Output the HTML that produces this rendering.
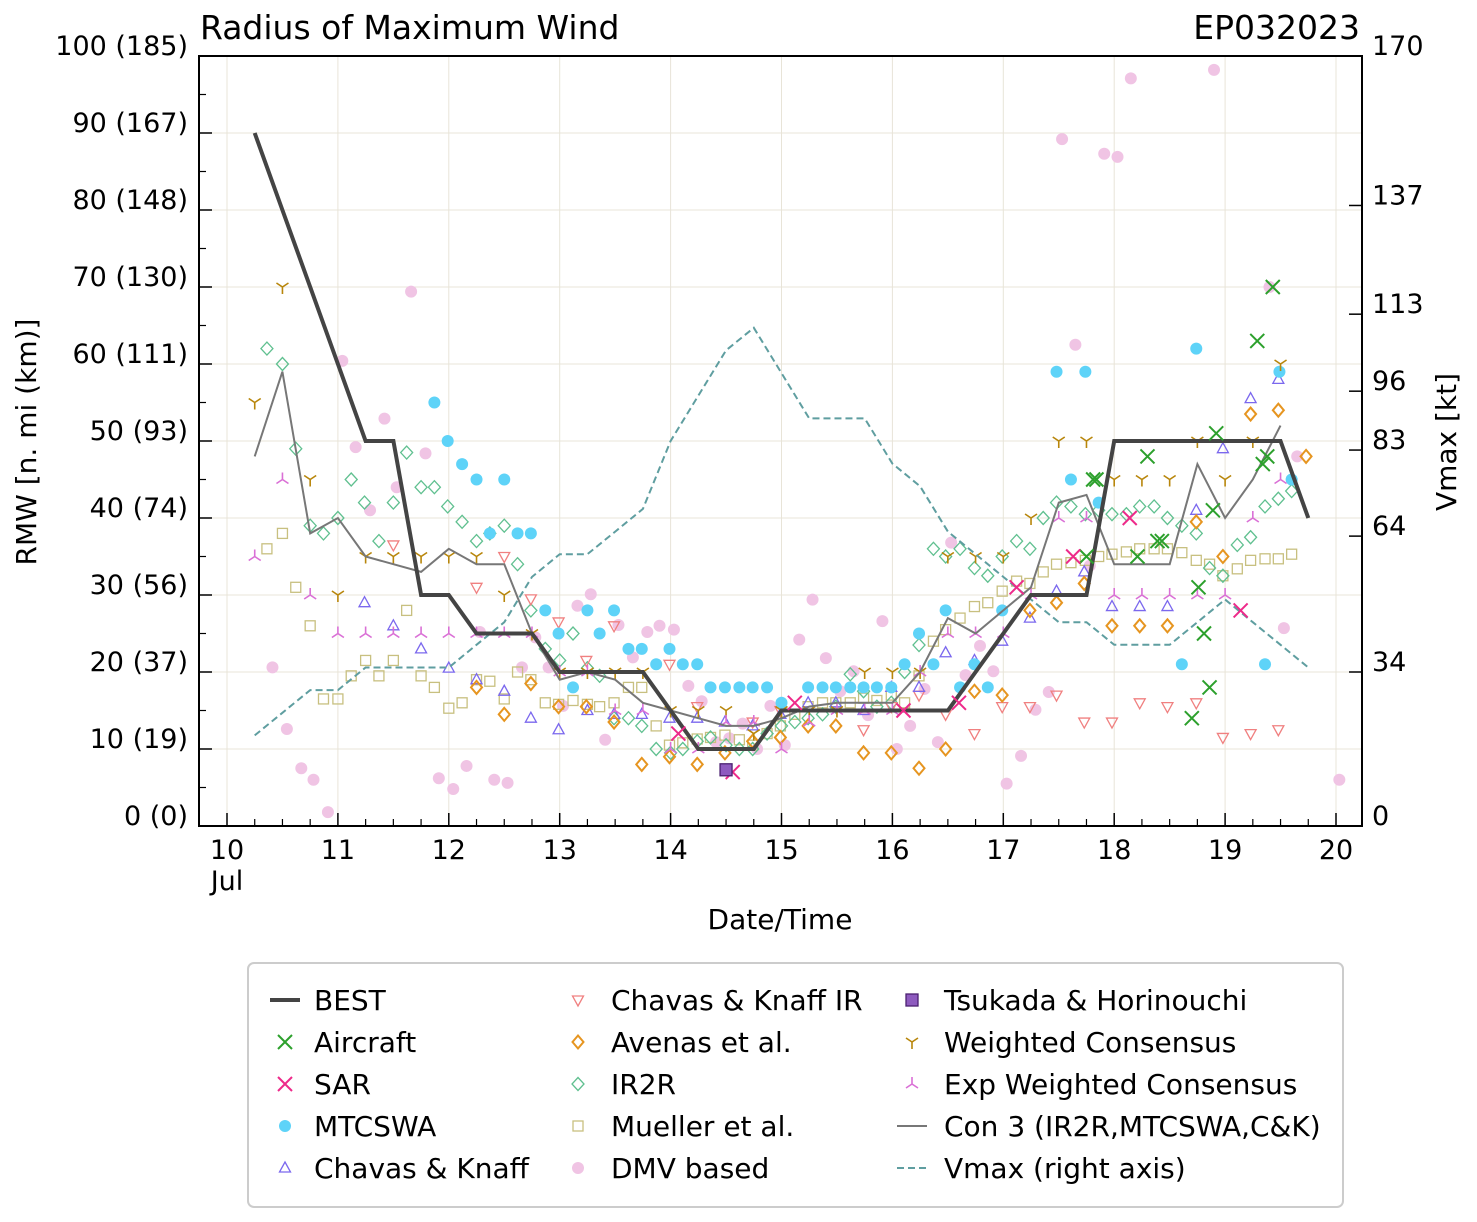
<!DOCTYPE html>
<html><head><meta charset="utf-8"><style>
body{margin:0;background:#fff;}
svg{display:block;font-family:"DejaVu Sans","Liberation Sans",sans-serif;}
</style></head><body>
<svg id="chart" width="1477" height="1222" viewBox="0 0 1477 1222" xmlns="http://www.w3.org/2000/svg">
<text x="200" y="39" font-size="33">Radius of Maximum Wind</text>
<text x="1360" y="39" font-size="33" text-anchor="end">EP032023</text>
<text transform="translate(36,442) rotate(-90)" font-size="28" text-anchor="middle">RMW [n. mi (km)]</text>
<text transform="translate(1456,442) rotate(-90)" font-size="28" text-anchor="middle">Vmax [kt]</text>
<text x="780" y="929" font-size="28" text-anchor="middle">Date/Time</text>
<g id="grid"></g><g id="axes"></g><g id="series"></g>
<g id="legend"></g>
</svg>
<script>
const bestT=[10.25,10.5,10.75,11,11.25,11.5,11.75,12,12.25,12.5,12.75,13,13.25,13.5,13.75,14,14.25,14.5,14.75,15,15.25,15.5,15.75,16,16.25,16.5,16.75,17,17.25,17.5,17.75,18,18.25,18.5,18.75,19,19.25,19.5,19.75];
const bestV=[90,80,70,60,50,50,30,30,25,25,25,20,20,20,20,15,10,10,10,15,15,15,15,15,15,15,20,25,30,30,30,50,50,50,50,50,50,50,40];
const vmaxV=[20,25,30,30,35,35,35,35,40,45,55,60,60,65,70,85,95,105,110,100,90,90,90,80,75,65,60,55,50,45,45,40,40,40,45,50,45,40,35];
const con3T=[10.25,10.5,10.75,11,11.25,11.5,11.75,12,12.25,12.5,12.75,13,13.25,13.5,13.75,14,14.25,14.5,14.75,15,15.25,15.5,15.75,16,16.25,16.5,16.75,17,17.25,17.5,17.75,18,18.25,18.5,18.75,19,19.25,19.5];
const con3V=[48,59,38,40,35,34,33,36,34,34,25,19,20,19,16,15,14,13,13,14,15.5,16,16,16,20,27,25,28,31,42,43,34,34,34,47,40,45,52];
const aircraft=[[17.75,35],[17.81,45],[17.84,45],[18.21,35],[18.3,48],[18.39,37],[18.43,37],[18.7,14],[18.76,31],[18.81,25],[18.86,18],[18.89,41],[18.92,51],[19.29,63],[19.34,47],[19.38,48],[19.43,70]];
const sar=[[14.07,12],[14.56,7],[15.12,16],[16.1,15],[16.6,16],[17.12,31],[17.63,35],[18.14,40],[19.14,28]];
const mtcswa=[[11.87,55],[11.99,50],[12.12,47],[12.25,45],[12.37,38],[12.5,45],[12.62,38],[12.74,38],[12.87,28],[12.99,25],[13.12,18],[13.25,28],[13.36,25],[13.49,28],[13.62,23],[13.74,23],[13.87,21],[13.99,23],[14.11,21],[14.24,21],[14.36,18],[14.49,18],[14.62,18],[14.74,18],[14.87,18],[15.0,16],[15.24,18],[15.37,18],[15.49,18],[15.62,18],[15.74,18],[15.86,18],[15.99,18],[16.11,21],[16.24,25],[16.37,21],[16.48,28],[16.61,18],[16.74,21],[16.86,18],[16.99,28],[17.48,59],[17.61,45],[17.74,59],[17.86,42],[18.61,21],[18.74,62],[19.36,21],[19.49,59],[19.6,45]];
const ck=[[11.24,29],[11.5,26],[11.75,23],[12.0,20.5],[12.25,19],[12.5,17.5],[12.74,14],[12.99,12.5],[13.25,15],[13.49,14.5],[13.74,14.5],[13.99,14],[14.24,14],[14.49,13.5],[14.74,13],[14.99,14.5],[15.24,16],[15.49,16],[15.74,15],[15.99,18],[16.24,18],[16.48,22.5],[16.74,21.5],[16.99,24],[17.24,27],[17.48,30.5],[17.73,33],[17.98,28.5],[18.23,28.5],[18.48,28.5],[18.74,41],[18.98,49],[19.23,55.5],[19.48,58]];
const ckir=[[11.5,36.5],[12.25,31],[12.5,35],[12.74,29.5],[12.99,26.5],[13.24,21.5],[13.49,26],[13.99,21],[14.24,15.5],[14.74,13.5],[14.99,15],[15.74,12.5],[15.99,15.5],[16.24,17],[16.48,14.5],[16.74,12],[16.99,15.5],[17.24,15.5],[17.48,17],[17.73,13.5],[17.98,13.5],[18.23,16],[18.48,15.5],[18.74,16],[18.98,11.5],[19.23,12],[19.48,12.5]];
const avenas=[[12.25,18],[12.5,14.5],[12.74,18.5],[12.99,15.5],[13.24,15.5],[13.49,13.5],[13.74,8],[13.99,9],[14.24,8],[14.49,9.5],[14.74,11],[14.99,11.5],[15.24,13],[15.49,13],[15.74,9.5],[15.99,9.5],[16.24,7.5],[16.48,10],[16.74,17.5],[16.99,17],[17.24,28],[17.48,29],[17.73,31.5],[17.98,26],[18.23,26],[18.48,26],[18.74,39.5],[18.98,35],[19.23,53.5],[19.48,54],[19.73,48]];
const ir2r=[[10.36,62],[10.5,60],[10.62,49],[10.75,39],[10.87,38],[11.0,40],[11.12,45],[11.24,42],[11.37,37],[11.5,42],[11.62,48.5],[11.75,44],[11.87,44],[11.99,41.5],[12.12,39.5],[12.25,37],[12.37,38],[12.5,39],[12.62,34],[12.74,28],[12.87,23],[13.0,21.5],[13.12,25],[13.25,20.5],[13.36,19.5],[13.49,14],[13.62,14],[13.74,13],[13.87,10],[14.0,9.5],[14.11,10],[14.24,11],[14.36,11.5],[14.5,10.5],[14.62,10],[14.74,10],[14.87,12],[15.0,13],[15.12,13.5],[15.24,14],[15.37,14.5],[15.49,15.5],[15.62,19.7],[15.74,17.5],[15.86,15.5],[15.99,16],[16.11,20],[16.24,23.5],[16.37,36],[16.48,35],[16.61,36],[16.74,33.5],[16.86,32.5],[16.99,35],[17.12,37],[17.24,36],[17.36,40],[17.48,42],[17.61,41.5],[17.74,40.5],[17.86,41],[17.98,40.5],[18.11,40.5],[18.23,41.5],[18.36,41.5],[18.48,40],[18.61,39],[18.74,38],[18.86,33.5],[18.98,32.5],[19.11,36.5],[19.23,37.5],[19.36,41.5],[19.48,42.5],[19.6,43.5]];
const mueller=[[10.36,36],[10.5,38],[10.62,31],[10.75,26],[10.87,16.5],[11.0,16.5],[11.12,19.5],[11.25,21.5],[11.37,19.5],[11.5,21.5],[11.62,28],[11.75,19.5],[11.87,18],[12.0,15.3],[12.12,16],[12.25,19],[12.37,18.8],[12.5,16.5],[12.62,20],[12.74,19],[12.87,16],[12.99,15.8],[13.12,16.3],[13.25,15.8],[13.36,15.5],[13.49,16],[13.62,18],[13.74,18],[13.87,13],[13.99,10.5],[14.11,10.8],[14.24,11.3],[14.36,11.5],[14.49,11.8],[14.62,11.2],[14.74,10.5],[14.87,12],[14.99,13],[15.12,14.5],[15.24,15.5],[15.37,16],[15.49,16],[15.62,16],[15.74,16.6],[15.86,16.3],[15.99,17],[16.11,16],[16.24,19.5],[16.37,24],[16.48,25.5],[16.61,27],[16.74,28.5],[16.86,29],[16.99,30.5],[17.12,31.8],[17.24,31.5],[17.36,33],[17.48,34],[17.61,34.2],[17.74,34.5],[17.86,35],[17.98,35.3],[18.11,35.6],[18.23,36],[18.36,36],[18.48,36],[18.61,35.5],[18.74,34.5],[18.86,34],[18.98,32.5],[19.11,33.4],[19.23,34.5],[19.36,34.7],[19.48,34.7],[19.6,35.3]];
const dmv=[[10.41,20.6],[10.54,12.6],[10.67,7.5],[10.78,6],[10.91,1.8],[11.04,60.4],[11.16,49.2],[11.29,41],[11.42,52.9],[11.53,44],[11.66,69.4],[11.79,48.4],[11.91,6.2],[12.04,4.8],[12.16,7.8],[12.28,25.2],[12.41,6],[12.53,5.6],[12.66,20.6],[12.78,24.5],[12.9,20.6],[13.03,15.6],[13.16,28.6],[13.28,30.1],[13.41,11.2],[13.53,26.1],[13.66,21.9],[13.79,25.2],[13.9,26],[14.03,25.5],[14.16,18.2],[14.28,16.2],[14.41,10.9],[14.53,11.4],[14.65,13.3],[14.78,10],[14.9,15.6],[15.03,10.5],[15.16,24.2],[15.28,29.4],[15.4,21.8],[15.53,17.5],[15.65,20.1],[15.78,14.4],[15.91,26.6],[16.04,10],[16.16,13],[16.29,17.8],[16.41,10.9],[16.53,36.8],[16.66,19.6],[16.79,23.4],[16.91,20.1],[17.03,5.5],[17.16,9.1],[17.29,15.1],[17.41,17.4],[17.53,89.2],[17.65,62.5],[17.78,33.8],[17.91,87.3],[18.03,86.9],[18.15,97.1],[18.9,98.2],[19.4,70],[19.53,25.7],[19.65,48],[20.03,6]];
const tsukada=[[14.5,7.3]];
const wcons=[[10.25,55],[10.5,70],[10.75,45],[11.0,30],[11.25,35],[11.5,35],[11.75,35],[12.0,35],[12.25,35],[12.5,30],[12.75,25],[13.0,20],[13.25,20],[13.5,20],[13.75,20],[14.0,15],[14.25,15],[14.5,15],[14.75,12],[15.0,15],[15.25,15],[15.5,15],[15.75,20],[16.0,20],[16.25,20],[16.5,35],[16.75,35],[17.0,35],[17.25,40],[17.5,50],[17.75,50],[18.0,45],[18.25,45],[18.5,45],[18.75,50],[19.0,45],[19.25,50],[19.5,60]];
const econs=[[10.25,35],[10.5,45],[10.75,30],[11.0,25],[11.25,25],[11.5,25],[11.75,25],[12.0,25],[12.25,25],[12.5,25],[12.75,25],[13.0,20],[13.25,20],[13.5,15],[13.75,15],[14.0,10],[14.25,10],[14.5,13.5],[14.75,13.5],[15.0,10],[15.25,13.5],[15.5,15],[15.75,15],[16.0,15],[16.25,20],[16.5,25],[16.75,25],[17.0,25],[17.25,30],[17.5,40],[17.75,40],[18.0,30],[18.25,30],[18.5,30],[18.75,30],[19.0,30],[19.25,40],[19.5,45]];
const dayTicks=[10,11,12,13,14,15,16,17,18,19,20];
const leftTicks=[0,10,20,30,40,50,60,70,80,90,100];
const leftLabels=["0 (0)","10 (19)","20 (37)","30 (56)","40 (74)","50 (93)","60 (111)","70 (130)","80 (148)","90 (167)","100 (185)"];
const rightTicks=[0,34,64,83,96,113,137,170];

const X0=199,X1=1362,Y0=56,Y1=826;
const xs=t=>227+(t-10)*110.9;
const ys=v=>Y1-(v/100)*(Y1-Y0);
const yr=v=>Y1-(v/170)*(Y1-Y0);
const NS="http://www.w3.org/2000/svg";
function mk(tag,attrs,parent){const e=document.createElementNS(NS,tag);for(const k in attrs)e.setAttribute(k,attrs[k]);parent.appendChild(e);return e;}
const grid=document.getElementById('grid'),axes=document.getElementById('axes'),ser=document.getElementById('series'),leg=document.getElementById('legend');
dayTicks.forEach(d=>{const l=mk('line',{x1:xs(d),x2:xs(d),y1:Y0,y2:Y1,stroke:'#e8e4d8','stroke-width':1},grid);

});
leftTicks.forEach(v=>{const l=mk('line',{x1:X0,x2:X1,y1:ys(v),y2:ys(v),stroke:'#e8e4d8','stroke-width':1},grid);

});
const frame=mk('rect',{x:X0,y:Y0,width:X1-X0,height:Y1-Y0,fill:'none',stroke:'#000','stroke-width':2},axes);


leftTicks.forEach((v,i)=>{mk('line',{x1:X0,x2:X0+13,y1:ys(v),y2:ys(v),stroke:'#000','stroke-width':1.5},axes);
if(v<100)mk('line',{x1:X0,x2:X0+7,y1:ys(v+5),y2:ys(v+5),stroke:'#000','stroke-width':1.2},axes);
const t=mk('text',{x:188,y:ys(v)-1,'font-size':27,'text-anchor':'end'},axes);t.textContent=leftLabels[i];

});
rightTicks.forEach(v=>{mk('line',{x1:X1-13,x2:X1,y1:yr(v),y2:yr(v),stroke:'#000','stroke-width':1.5},axes);
const t=mk('text',{x:1372,y:yr(v)-1,'font-size':27},axes);t.textContent=v;

});
dayTicks.forEach(d=>{mk('line',{x1:xs(d),x2:xs(d),y1:Y1,y2:Y1-13,stroke:'#000','stroke-width':1.5},axes);
for(let q=1;q<4;q++){if(d+q*0.25<20.23)mk('line',{x1:xs(d+q*0.25),x2:xs(d+q*0.25),y1:Y1,y2:Y1-7,stroke:'#000','stroke-width':1.2},axes);}
const t=mk('text',{x:xs(d),y:859,'font-size':27,'text-anchor':'middle'},axes);t.textContent=d;

});
const jul=mk('text',{x:xs(10),y:890,'font-size':27,'text-anchor':'middle'},axes);jul.textContent='Jul';



function marker(kind,cx,cy,col,g,s){s=s||1;let e;
 if(kind==='x'){e=mk('path',{d:`M${cx-7*s},${cy-7*s}L${cx+7*s},${cy+7*s}M${cx-7*s},${cy+7*s}L${cx+7*s},${cy-7*s}`,stroke:col,'stroke-width':2,fill:'none'},g);}
 else if(kind==='dot'){e=mk('circle',{cx:cx,cy:cy,r:6*s,fill:col},g);}
 else if(kind==='tu'){e=mk('path',{d:`M${cx},${cy-6*s}L${cx+5.5*s},${cy+4*s}L${cx-5.5*s},${cy+4*s}Z`,stroke:col,'stroke-width':1.3,fill:'none'},g);}
 else if(kind==='td'){e=mk('path',{d:`M${cx},${cy+6*s}L${cx+5.5*s},${cy-4*s}L${cx-5.5*s},${cy-4*s}Z`,stroke:col,'stroke-width':1.3,fill:'none'},g);}
 else if(kind==='dia'){e=mk('path',{d:`M${cx},${cy-6.5*s}L${cx+5.5*s},${cy}L${cx},${cy+6.5*s}L${cx-5.5*s},${cy}Z`,stroke:col,'stroke-width':2,fill:'none'},g);}
 else if(kind==='odia'){e=mk('path',{d:`M${cx},${cy-6.5*s}L${cx+6*s},${cy}L${cx},${cy+6.5*s}L${cx-6*s},${cy}Z`,stroke:col,'stroke-width':1.3,fill:'none'},g);}
 else if(kind==='sq'){e=mk('rect',{x:cx-5*s,y:cy-5*s,width:10*s,height:10*s,stroke:col,'stroke-width':1.3,fill:'none'},g);}
 else if(kind==='fsq'){e=mk('rect',{x:cx-6*s,y:cy-6*s,width:12*s,height:12*s,stroke:'#4b2070','stroke-width':1.3,fill:col},g);}
 else if(kind==='y1'){e=mk('path',{d:`M${cx},${cy}L${cx},${cy+7*s}M${cx},${cy}L${cx-6*s},${cy-4*s}M${cx},${cy}L${cx+6*s},${cy-4*s}`,stroke:col,'stroke-width':1.6,fill:'none'},g);}
 else if(kind==='y2'){e=mk('path',{d:`M${cx},${cy}L${cx},${cy-7*s}M${cx},${cy}L${cx-6*s},${cy+4*s}M${cx},${cy}L${cx+6*s},${cy+4*s}`,stroke:col,'stroke-width':1.6,fill:'none'},g);}
 return e;}
function scatter(arr,kind,col,name){const g=mk('g',{},ser);
 
 
 arr.forEach(p=>{const m=marker(kind,xs(p[0]),ys(p[1]),col,g);
 
 });}
function line(T,V,yf,attrs,name){const d=T.map((t,i)=>(i?'L':'M')+xs(t).toFixed(1)+','+yf(V[i]).toFixed(1)).join('');
 const p=mk('path',Object.assign({d:d,fill:'none'},attrs),ser);
 
 }
const C={best:'#444',air:'#2ca02c',sar:'#ee2a8a',mt:'#5ed3f8',ck:'#7b68ee',ckir:'#f08080',av:'#e69520',ir:'#60c090',mu:'#c8c080',dmv:'#f0c4e4',ts:'#8e5bbf',wc:'#b8860b',ec:'#da70d6',c3:'#777',vm:'#5f9ea0'};
scatter(dmv,'dot',C.dmv,'dmv');
scatter(mueller,'sq',C.mu,'mueller');
scatter(ir2r,'odia',C.ir,'ir2r');
scatter(ckir,'td',C.ckir,'ck-ir');
scatter(ck,'tu',C.ck,'chavas-knaff');
scatter(avenas,'dia',C.av,'avenas');
scatter(mtcswa,'dot',C.mt,'mtcswa');
scatter(wcons,'y1',C.wc,'weighted-consensus');
scatter(econs,'y2',C.ec,'exp-weighted-consensus');
line(bestT,vmaxV,yr,{stroke:C.vm,'stroke-width':2,'stroke-dasharray':'7,4'},'vmax-line');
line(con3T,con3V,ys,{stroke:C.c3,'stroke-width':2},'con3-line');
line(bestT,bestV,ys,{stroke:C.best,'stroke-width':4},'best-line');
scatter(aircraft,'x',C.air,'aircraft');
scatter(sar,'x',C.sar,'sar');
scatter(tsukada,'fsq',C.ts,'tsukada');

const lb=mk('rect',{x:248,y:963,width:1095,height:244,rx:6,fill:'#fff',stroke:'#ccc','stroke-width':2},leg);


const entries=[['BEST','line',C.best,4],['Aircraft','x',C.air],['SAR','x',C.sar],['MTCSWA','dot',C.mt],['Chavas & Knaff','tu',C.ck],
['Chavas & Knaff IR','td',C.ckir],['Avenas et al.','dia',C.av],['IR2R','odia',C.ir],['Mueller et al.','sq',C.mu],['DMV based','dot',C.dmv],
['Tsukada & Horinouchi','fsq',C.ts],['Weighted Consensus','y1',C.wc],['Exp Weighted Consensus','y2',C.ec],['Con 3 (IR2R,MTCSWA,C&K)','line',C.c3,2],['Vmax (right axis)','dash',C.vm,2]];
const colX=[285,578,912],txX=[314,611,944];
entries.forEach((e,i)=>{const c=Math.floor(i/5),r=i%5,cy=1000+r*42;
 const g=mk('g',{},leg);
 
 
 if(e[1]==='line')mk('line',{x1:colX[c]-15,x2:colX[c]+15,y1:cy,y2:cy,stroke:e[2],'stroke-width':e[3]},g);
 else if(e[1]==='dash')mk('line',{x1:colX[c]-15,x2:colX[c]+15,y1:cy,y2:cy,stroke:e[2],'stroke-width':2,'stroke-dasharray':'7,4'},g);
 else marker(e[1],colX[c],cy,e[2],g);
 const t=mk('text',{x:txX[c],y:cy+10,'font-size':28},g);t.textContent=e[0];});
</script>
</body></html>
